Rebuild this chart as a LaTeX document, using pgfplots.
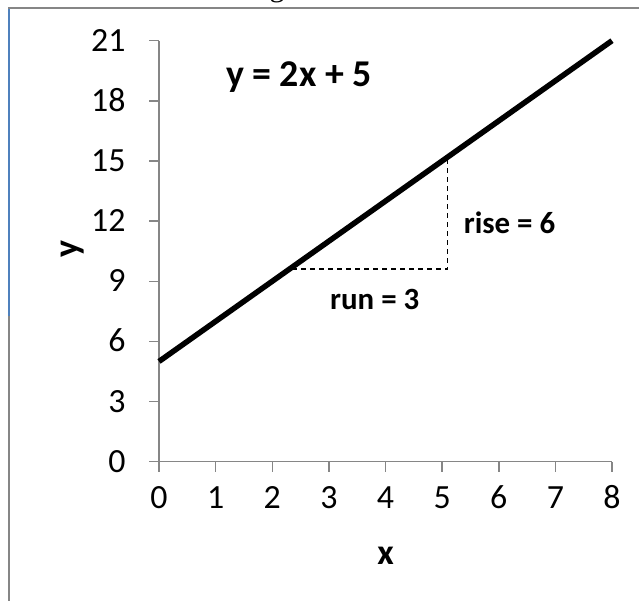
\documentclass[border=0pt]{standalone}
\usepackage{fontspec}
\setmainfont{Carlito}
\newfontfamily\serifg{Liberation Serif}
\usepackage{pgfplots}
\pgfplotsset{compat=1.18}
\definecolor{axgray}{RGB}{134,134,134}
\definecolor{frameblue}{RGB}{79,129,189}
\begin{document}
\begin{tikzpicture}[x=1bp,y=1bp]
\useasboundingbox (0,0) rectangle (639,601);
\draw[axgray, line width=1.5bp] (9,285) -- (9,0);
\draw[frameblue, line width=1.5bp] (9,593) -- (9,285);
\draw[axgray, line width=1.5bp] (8.25,593) -- (639,593);
\node[font=\serifg\fontsize{30}{36}\selectfont, anchor=base] at (277,604) {g};
\begin{axis}[
  at={(159bp,139.3bp)}, anchor=south west,
  scale only axis, width=453bp, height=421bp,
  xmin=0, xmax=8, ymin=0, ymax=21,
  enlargelimits=false,
  axis x line=bottom, axis y line=left,
  axis line style={-, axgray, line width=1.5bp},
  every tick/.style={axgray, line width=1.5bp},
  tick align=outside, major tick length=10bp,
  xtick={0,1,...,8}, ytick={0,3,...,21},
  /pgf/number format/assume math mode=true,
  tick label style={font=\fontsize{34}{40}\selectfont, text=black},
  xticklabel style={anchor=base, yshift=-37bp},
  yticklabel style={anchor=east, text height=21bp, text depth=0bp, xshift=-20bp, yshift=0bp},
  xlabel={\textbf{x}}, ylabel={\textbf{y}},
  label style={font=\fontsize{36}{42}\selectfont},
  xlabel style={at={(axis description cs:0.5,-0.223)}, anchor=center},
  ylabel style={at={(axis description cs:-0.19,0.505)}, anchor=center, rotate=0},
  clip=false,
]
\addplot[black, line width=5.5bp] coordinates {(0,5) (8,21)};
\addplot[black, line width=1.3bp, dash pattern=on 5bp off 4bp] coordinates {(2.35,9.61) (5.1,9.61) (5.1,15.1)};
\node[font=\bfseries\fontsize{38}{44}\selectfont] at (axis cs:2.47,19.17) {y = 2x + 5};
\node[font=\bfseries\fontsize{31}{36}\selectfont] at (axis cs:6.19,11.9) {rise = 6};
\node[font=\bfseries\fontsize{31}{36}\selectfont] at (axis cs:3.81,8.07) {run = 3};
\end{axis}
\end{tikzpicture}
\end{document}
